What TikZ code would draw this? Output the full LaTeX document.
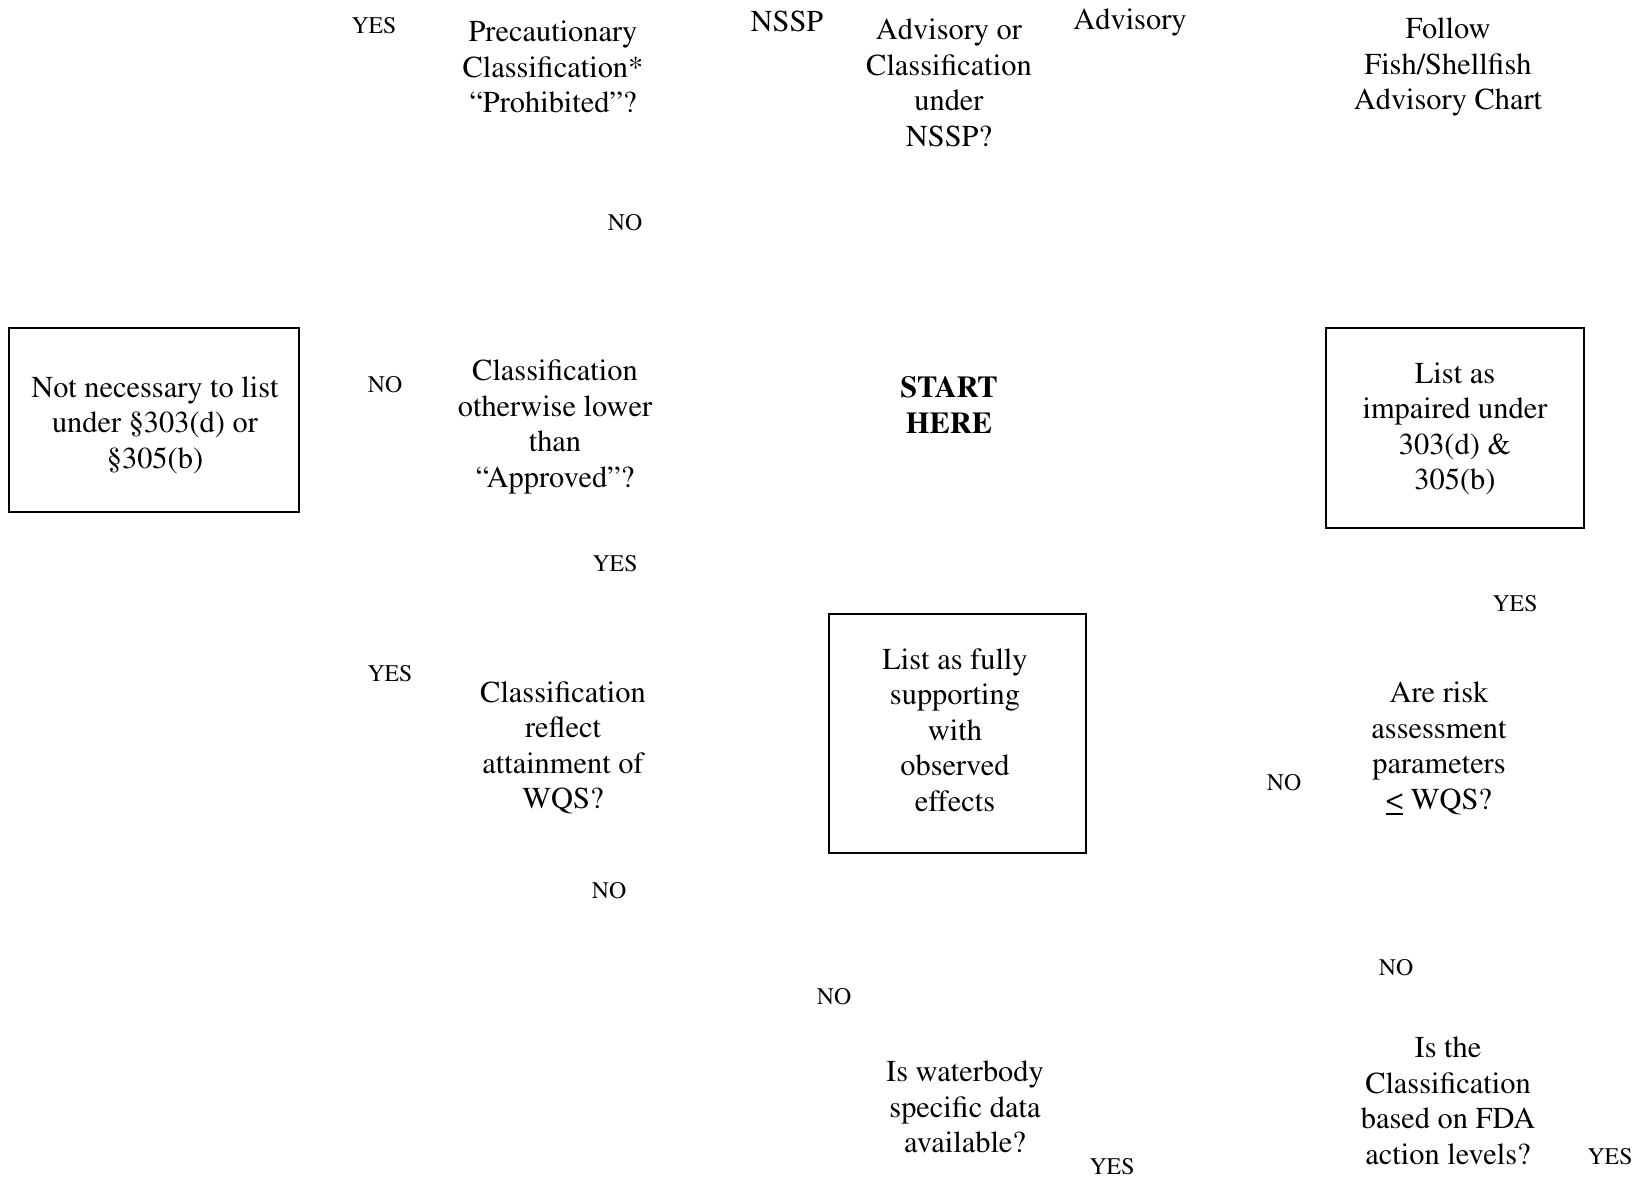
\documentclass[tikz,border=0pt]{standalone}
\usepackage[T1]{fontenc}
\usepackage{mathptmx}
\begin{document}
\begin{tikzpicture}[x=0.5pt,y=-0.5pt,
  txt/.style={align=center,inner sep=0pt,font=\fontsize{15.2}{17.75}\selectfont},
  lbl/.style={inner sep=0pt,font=\fontsize{11.9}{13}\selectfont},
  boxed/.style={draw,line width=1pt,inner sep=0pt}]
\useasboundingbox (0,0) rectangle (1639,1179);
% top row
\node[lbl] (y1) at (374,26) {YES};
\node[txt] (prec) at (553,67) {Precautionary\\Classification*\\``Prohibited''?};
\node[txt] (nssp) at (787,21) {NSSP};
\node[txt] (advq) at (949,83) {Advisory or\\Classification\\under\\NSSP?};
\node[txt] (adv) at (1130,22) {Advisory};
\node[txt] (follow) at (1448,67) {Follow\\Fish/Shellfish\\Advisory Chart};
\node[lbl] (n1) at (625,223) {NO};
% middle row
\node[boxed,minimum width=145pt,minimum height=92pt] (notnec) at (154,420) {};
\node[txt] (notnectxt) at (155,425) {Not necessary to list\\under \S303(d) or\\\S305(b)};
\node[lbl] (n2) at (385,385) {NO};
\node[txt] (lower) at (555,427) {Classification\\otherwise lower\\than\\``Approved''?};
\node[txt,font=\bfseries\fontsize{15.2}{17.75}\selectfont] (start) at (949,405) {START\\HERE};
\node[boxed,minimum width=129pt,minimum height=100pt] (impaired) at (1455,428) {};
\node[txt] (impairedtxt) at (1455,429) {List as\\impaired under\\303(d) \&\\305(b)};
\node[lbl] (y2) at (615,564) {YES};
\node[lbl] (y3) at (1515,604) {YES};
% lower middle
\node[lbl] (y4) at (390,674) {YES};
\node[txt] (reflect) at (563,748) {Classification\\reflect\\attainment of\\WQS?};
\node[boxed,minimum width=128.5pt,minimum height=119.5pt] (fully) at (957.5,733.5) {};
\node[txt] (fullytxt) at (955,730) {List as fully\\supporting\\with\\observed\\effects};
\node[txt] (risk) at (1439,749) {Are risk\\assessment\\parameters\\\underline{<} WQS?};
\node[lbl] (n3) at (1284,783) {NO};
\node[lbl] (n4) at (609,891) {NO};
\node[lbl] (n5) at (1396,968) {NO};
\node[lbl] (n6) at (834,997) {NO};
% bottom
\node[txt] (water) at (965,1107) {Is waterbody\\specific data\\available?};
\node[lbl] (y5) at (1112,1167) {YES};
\node[txt] (fda) at (1448,1101) {Is the\\Classification\\based on FDA\\action levels?};
\node[lbl] (y6) at (1610,1157) {YES};
\end{tikzpicture}
\end{document}
